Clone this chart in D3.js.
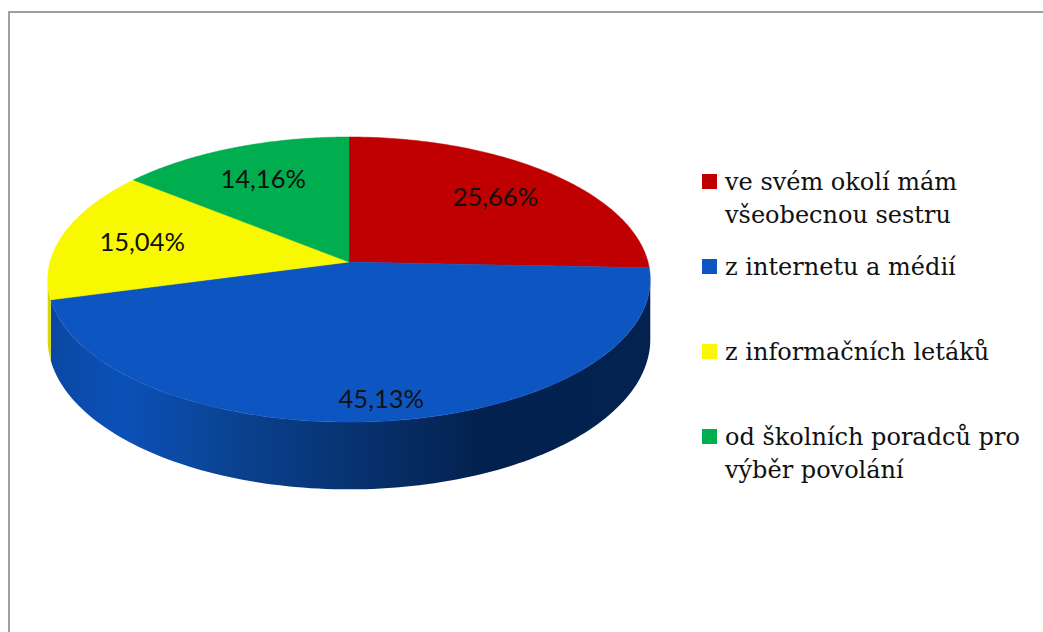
<!DOCTYPE html>
<html><head><meta charset="utf-8">
<script src="https://cdn.jsdelivr.net/npm/d3@7"></script>
<style>html,body{margin:0;padding:0;background:#fff;}svg{display:block;}</style>
</head><body>
<script>
// ---- data ----
const categories = ["ve svém okolí mám všeobecnou sestru", "z internetu a médií", "z informačních letáků", "od školních poradců pro výběr povolání"];
const legendLines = [["ve svém okolí mám", "všeobecnou sestru"], ["z internetu a médií"], ["z informačních letáků"], ["od školních poradců pro", "výběr povolání"]];
const values = [25.66, 45.13, 15.04, 14.16];
const valueLabels = ["25,66%", "45,13%", "15,04%", "14,16%"];
const colors = ["#c00000", "#0d55c0", "#f8f800", "#00ad4f"];
const sideColors = ["#800000", null, "#d8d800", "#007a37"];

const W = 1043, H = 632;
const svg = d3.select("body").append("svg").attr("width", W).attr("height", H);

// frame
svg.append("rect").attr("x", 9).attr("y", 12).attr("width", 1100).attr("height", 700)
  .attr("fill", "#fff").attr("stroke", "#888").attr("stroke-width", 1.6);

// 3D perspective projection of a pie
const cx = 349, cy = 262, Rx = 299, Ry = 140.4, k = 0.123, depth = 59;
function proj(a, f, h) { // a: angle clockwise from top, f: radius fraction, h: 0 top / 1 bottom
  const X = f * Math.sin(a), Z = -f * Math.cos(a);
  const p = 1 / (1 - k * Z);
  return [cx + Rx * X * p, cy + (Ry * Z + h * depth) * p];
}

const pie = d3.pie().sort(null).value(d => d).startAngle(0).endAngle(2 * Math.PI);
const arcs = pie(values);

const defs = svg.append("defs");
const grad = defs.append("linearGradient").attr("id", "sideBlue")
  .attr("gradientUnits", "userSpaceOnUse").attr("x1", cx - Rx).attr("x2", cx + Rx).attr("y1", 0).attr("y2", 0);
[[0, "#0a47a2"], [0.12, "#0c51b8"], [0.3, "#0a4392"], [0.45, "#083779"], [0.6, "#062b62"], [0.72, "#03214e"], [1, "#03224f"]]
  .forEach(([o, c]) => grad.append("stop").attr("offset", o).attr("stop-color", c));

const visA = Math.acos(-k), visB = 2 * Math.PI - Math.acos(-k);
const line = d3.line();
const N = 120;

// sides
arcs.forEach((d, i) => {
  const s = Math.max(d.startAngle, visA), e = Math.min(d.endAngle, visB);
  if (e <= s) return;
  const pts = [];
  for (let j = 0; j <= N; j++) pts.push(proj(s + (e - s) * j / N, 1, 0));
  for (let j = N; j >= 0; j--) pts.push(proj(s + (e - s) * j / N, 1, 1));
  svg.append("path").attr("d", line(pts) + "Z")
    .attr("fill", i === 1 ? "url(#sideBlue)" : sideColors[i]);
});

// tops
arcs.forEach((d, i) => {
  const pts = [proj(0, 0, 0)];
  for (let j = 0; j <= N; j++) pts.push(proj(d.startAngle + (d.endAngle - d.startAngle) * j / N, 1, 0));
  svg.append("path").attr("d", line(pts) + "Z").attr("fill", colors[i])
    .attr("stroke", colors[i]).attr("stroke-width", 0.5);
});

// value labels
arcs.forEach((d, i) => {
  const m = (d.startAngle + d.endAngle) / 2;
  const Zm = -Math.cos(m);
  const f = 0.72 + 0.15 * Math.max(0, Zm);
  const [x, y] = proj(m, f, 0);
  svg.append("text").attr("x", x).attr("y", y).attr("text-anchor", "middle")
    .attr("dominant-baseline", "central")
    .style("font-family", "Lato, 'Open Sans', sans-serif").style("font-size", "25.5px").attr("fill", "#111")
    .text(valueLabels[i]);
});

// legend
const lg = svg.append("g");
const lx = 702, ly0 = 174, step = 85, lineH = 33;
legendLines.forEach((lines, i) => {
  const y = ly0 + i * step;
  lg.append("rect").attr("x", lx).attr("y", y).attr("width", 15).attr("height", 15).attr("fill", colors[i]);
  const t = lg.append("text").attr("x", lx + 23).attr("y", y + 16)
    .style("font-family", "'DejaVu Serif', serif").style("font-size", "24px").attr("fill", "#111");
  lines.forEach((l, j) => t.append("tspan").attr("x", lx + 23).attr("dy", j === 0 ? 0 : lineH).text(l));
});
</script>
</body></html>
